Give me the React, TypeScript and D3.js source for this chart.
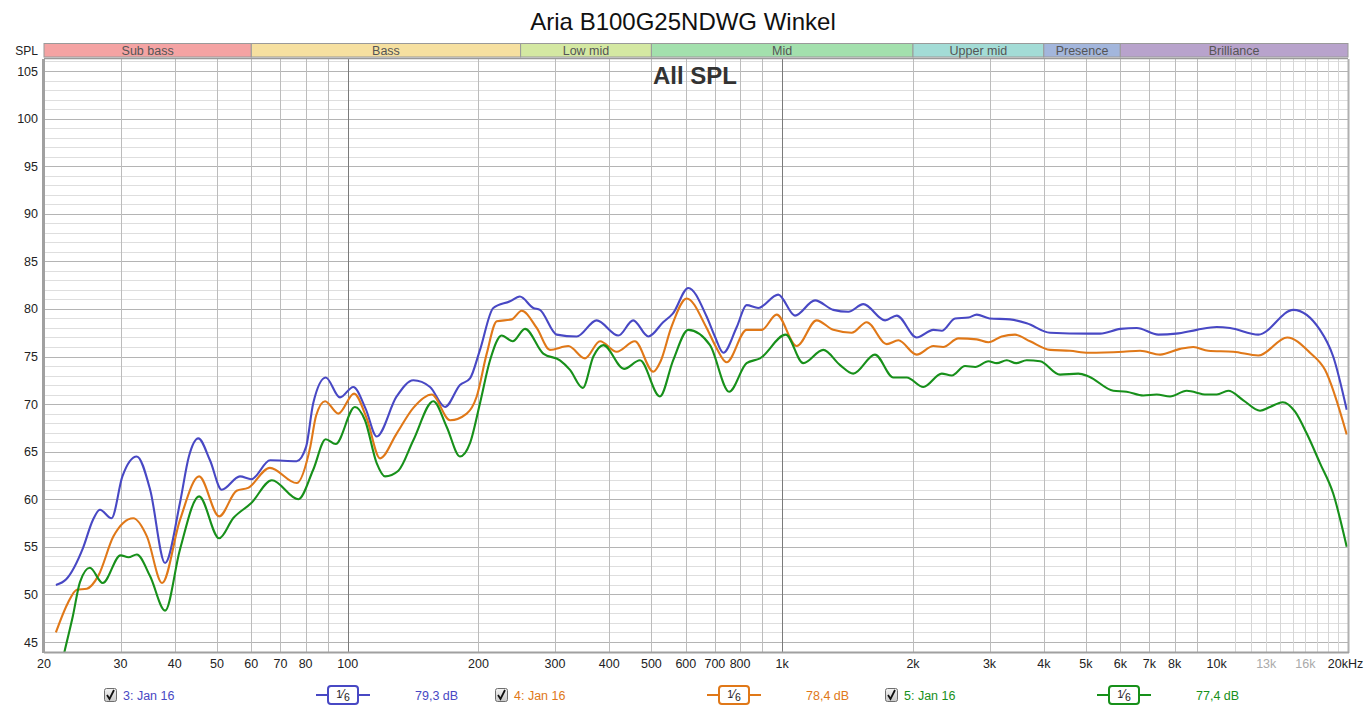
import React from "react";
import * as d3 from "d3";

const W = 1369;
const H = 710;

const chartTitle = "Aria B100G25NDWG Winkel";
const chartSubtitle = "All SPL";

const bandNames = ["Sub bass", "Bass", "Low mid", "Mid", "Upper mid", "Presence", "Brilliance"];
const bandEdges = [20, 60, 250, 500, 2000, 4000, 6000, 20000];
const bandColors = ["#f4a3a3", "#f6e0a0", "#d4e8a2", "#a3e0ad", "#a3dcd6", "#a3b6dc", "#b8a3cc"];

const yTicks = [45, 50, 55, 60, 65, 70, 75, 80, 85, 90, 95, 100, 105];
const xTickValues = [20, 30, 40, 50, 60, 70, 80, 100, 200, 300, 400, 500, 600, 700, 800, 1000, 2000, 3000, 4000, 5000, 6000, 7000, 8000, 10000, 13000, 16000, 20000];
const xTickLabels = ["20", "30", "40", "50", "60", "70", "80", "100", "200", "300", "400", "500", "600", "700", "800", "1k", "2k", "3k", "4k", "5k", "6k", "7k", "8k", "10k", "13k", "16k", "20kHz"];
const xTickMinor = [13000, 16000];

const seriesNames = ["3: Jan 16", "4: Jan 16", "5: Jan 16"];
const seriesLevels = ["79,3 dB", "78,4 dB", "77,4 dB"];
const seriesColors = ["#4848c4", "#e07818", "#17901a"];

const blueData: [number, number][] = [
  [21.3, 51.0], [22.5, 51.6], [24.6, 54.9], [25.9, 57.8], [26.9, 58.9], [28.6, 58.0], [30.3, 62.4],
  [32.7, 64.5], [35.1, 61.0], [38.0, 53.3], [41.1, 59.6], [43.1, 64.5], [45.3, 66.4], [48.2, 64.1],
  [51.3, 61.0], [56.5, 62.4], [60, 62.1], [66.3, 64.1], [76.3, 64.0], [80.2, 65.5], [83.3, 70.1],
  [89, 72.8], [96, 70.7], [103, 71.8], [110, 69.5], [116.6, 66.6], [129.6, 70.8], [141.6, 72.5],
  [154.7, 71.8], [167.5, 69.7], [181.3, 72.0], [191.2, 72.7], [201.6, 75.7], [216.3, 80.1],
  [236.3, 80.8], [249, 81.3], [267.4, 80.1], [277, 79.9], [302.7, 77.3], [336.5, 77.1], [374, 78.8],
  [419.6, 77.2], [454, 78.8], [492, 77.1], [532, 78.6], [560, 79.5], [608, 82.2], [670, 79.2],
  [700, 77.1], [732, 75.4], [786, 78.1], [828, 80.4], [881, 80.1], [979, 81.5], [1070, 79.3],
  [1190, 80.9], [1311, 79.9], [1420, 79.7], [1537, 80.5], [1725, 78.8], [1835, 79.3], [2039, 77.0],
  [2228, 77.8], [2329, 77.7], [2500, 79.0], [2682, 79.1], [2804, 79.4], [3000, 79.0], [3344, 78.9],
  [3653, 78.5], [4135, 77.5], [5075, 77.4], [5388, 77.4], [6000, 77.9], [6545, 78.0], [7340, 77.3],
  [8060, 77.4], [9000, 77.8], [10000, 78.1], [10732, 78.0], [12467, 77.3], [15007, 79.9],
  [17284, 77.8], [18540, 75.0], [19917, 69.4],
];

const orangeData: [number, number][] = [
  [21.3, 46.0], [22.7, 49.1], [23.8, 50.5], [25.1, 50.6], [26.7, 52.0], [28.9, 56.1], [32.1, 58.0],
  [34.5, 56.1], [37.4, 51.2], [41.1, 57.8], [45.5, 62.4], [50.6, 58.2], [55.5, 60.9], [59, 61.2],
  [66.2, 63.3], [76.3, 61.7], [82, 65.5], [84.6, 68.8], [88.7, 70.3], [95.2, 69.0], [103.4, 71.1],
  [110.6, 68.5], [118.7, 64.3], [129.6, 66.9], [141.6, 69.6], [156.1, 71.0], [172, 68.3],
  [187.9, 69.0], [198.1, 70.8], [208.9, 75.3], [220.3, 78.7], [238.5, 78.9], [251.4, 79.8],
  [272.3, 78.0], [292.1, 75.7], [321.9, 76.1], [351.7, 74.8], [380.8, 76.6], [416, 75.5], [458, 76.6],
  [505, 73.4], [525, 74.5], [555, 78.0], [603, 81.1], [670, 78.0], [704, 76.0], [745, 74.4],
  [828, 77.8], [897, 77.8], [971, 79.4], [1080, 76.1], [1200, 78.8], [1311, 77.8], [1445, 77.5],
  [1565, 78.6], [1740, 76.3], [1851, 76.7], [2039, 75.2], [2228, 76.1], [2346, 76.0], [2544, 76.9],
  [2804, 76.8], [2982, 76.5], [3200, 77.1], [3434, 77.3], [3719, 76.6], [4135, 75.7], [4596, 75.6],
  [5064, 75.4], [6096, 75.5], [6661, 75.6], [7407, 75.2], [8235, 75.8], [8833, 76.0], [9561, 75.6],
  [10919, 75.5], [12467, 75.1], [14533, 77.0], [16394, 75.4], [17752, 73.6], [19917, 66.8],
];

const greenData: [number, number][] = [
  [21.3, 40.0], [22.3, 44.0], [23.3, 47.7], [24.2, 51.3], [25.5, 52.8], [27.3, 51.2], [30, 54.1],
  [31.3, 53.9], [32.7, 54.2], [35.1, 51.9], [38, 48.3], [41.1, 54.7], [45.5, 60.3], [50.6, 55.9],
  [54.5, 58.0], [60, 59.6], [66.9, 62.0], [77, 60.0], [83.3, 63.1], [89, 66.3], [93.8, 65.8],
  [103.9, 69.7], [109.6, 68.3], [116.6, 63.8], [121.9, 62.4], [130.8, 63.0], [141.6, 66.2],
  [157.4, 70.3], [169, 67.6], [181.3, 64.5], [191.2, 65.9], [201.6, 70.1], [212.6, 74.6],
  [226.1, 77.2], [239.7, 76.6], [255.9, 77.9], [281.9, 75.3], [308, 74.6], [324.8, 73.6],
  [347.5, 71.7], [367.6, 75.0], [387.6, 76.2], [432.5, 73.7], [470.6, 74.6], [523, 70.8], [561, 74.6],
  [608, 77.8], [682, 76.2], [755, 71.3], [828, 74.3], [889, 74.8], [1019, 77.3], [1118, 74.3],
  [1243, 75.7], [1359, 74.1], [1457, 73.2], [1635, 75.2], [1802, 72.8], [1934, 72.8], [2113, 71.8],
  [2329, 73.2], [2456, 73.0], [2635, 74.0], [2782, 73.9], [2982, 74.5], [3117, 74.3], [3288, 74.6],
  [3453, 74.3], [3653, 74.6], [3922, 74.5], [4359, 73.1], [4803, 73.2], [5075, 72.9], [5781, 71.4],
  [6205, 71.3], [6777, 70.9], [7276, 71.0], [7808, 70.8], [8530, 71.4], [9482, 71.0], [10000, 71.0],
  [10634, 71.4], [11516, 70.4], [12583, 69.3], [13266, 69.7], [14187, 70.2], [15148, 69.2],
  [16115, 66.9], [17284, 63.8], [18540, 60.6], [19917, 55.0],
];

const seriesData = [blueData, orangeData, greenData];

const PL = 44, PR = 1348, PT = 59, PB = 652;

export default function App() {
  const x = d3.scaleLog().domain([20, 20000]).range([44, 1347.5]);
  const y = d3.scaleLinear().domain([45, 105]).range([642, 71]);

  const line = d3
    .line<[number, number]>()
    .x((d) => x(d[0]))
    .y((d) => y(d[1]))
    .curve(d3.curveMonotoneX);

  const gridFreqs: { f: number; kind: string }[] = [];
  [10, 100, 1000].forEach((dec) => {
    for (let m = 1; m <= 9; m++) {
      const f = dec * m;
      if (f <= 20 || f > 10000) continue;
      gridFreqs.push({ f, kind: m === 1 ? "decade" : "minor" });
    }
  });
  for (let m = 11; m <= 19; m++) gridFreqs.push({ f: m * 1000, kind: "light" });

  const hLines: number[] = [];
  for (let v = 44; v <= 106; v++) hLines.push(v);

  const font = "'Liberation Sans', Arial, sans-serif";

  return (
    <div style={{ position: "absolute", left: 0, top: 0 }}>
      <svg width={W} height={H} style={{ display: "block", background: "#fff" }} fontFamily={font}>
        <defs>
          <clipPath id="plotClip">
            <rect x={PL} y={PT} width={PR - PL} height={PB - PT} />
          </clipPath>
          <linearGradient id="cbGrad" x1="0" y1="0" x2="0" y2="1">
            <stop offset="0" stopColor="#f4f4f4" />
            <stop offset="1" stopColor="#c8c8c8" />
          </linearGradient>
        </defs>

        <text x={683} y={30} textAnchor="middle" fontSize={24} fill="#111">
          {chartTitle}
        </text>

        {bandNames.map((name, i) => {
          const x0 = x(bandEdges[i]);
          const x1 = i === bandNames.length - 1 ? PR : x(bandEdges[i + 1]);
          return (
            <g key={name}>
              <rect x={x0} y={43.5} width={x1 - x0} height={13.5} fill={bandColors[i]} stroke="#9a9a9a" strokeWidth={1} />
              <text x={(x0 + x1) / 2} y={55} textAnchor="middle" fontSize={12.5} fill="#555">
                {name}
              </text>
            </g>
          );
        })}
        <text x={38} y={54.5} textAnchor="end" fontSize={12} fill="#222">
          SPL
        </text>

        <rect x={PL} y={PT} width={PR - PL} height={PB - PT} fill="#fff" />

        <g clipPath="url(#plotClip)">
          {hLines.map((v) => (
            <line
              key={"h" + v}
              x1={PL}
              x2={PR}
              y1={Math.round(y(v)) + 0.5}
              y2={Math.round(y(v)) + 0.5}
              stroke={v % 5 === 0 ? "#b4b4b4" : "#dedede"}
              strokeWidth={1}
            />
          ))}
          {gridFreqs.map((g) => (
            <line
              key={"v" + g.f}
              x1={Math.round(x(g.f)) + 0.5}
              x2={Math.round(x(g.f)) + 0.5}
              y1={PT}
              y2={PB}
              stroke={g.kind === "decade" ? "#7a7a7a" : g.kind === "light" ? "#d6d6d6" : "#bcbcbc"}
              strokeWidth={1}
            />
          ))}
        </g>

        <text x={695} y={84} textAnchor="middle" fontSize={24} fontWeight="bold" fill="#333">
          {chartSubtitle}
        </text>

        <g clipPath="url(#plotClip)">
          {seriesData.map((data, i) => (
            <path key={"s" + i} d={line(data) || ""} fill="none" stroke={seriesColors[i]} strokeWidth={2.1} strokeLinejoin="round" />
          ))}
        </g>

        <line x1={PL} x2={PR} y1={PT - 0.5} y2={PT - 0.5} stroke="#9a9a9a" strokeWidth={1.5} />
        <line x1={PL - 0.5} x2={PL - 0.5} y1={PT} y2={PB + 1} stroke="#a0a0a0" strokeWidth={3} />
        <line x1={PR + 0.5} x2={PR + 0.5} y1={PT} y2={PB + 1} stroke="#b0b0b0" strokeWidth={2} />
        <line x1={PL} x2={PR + 1} y1={PB + 0.5} y2={PB + 0.5} stroke="#a0a0a0" strokeWidth={2} />

        {yTicks.map((v) => (
          <text key={"yt" + v} x={38} y={y(v) + 4.5} textAnchor="end" fontSize={12.5} fill="#222">
            {v}
          </text>
        ))}

        {xTickValues.map((f, i) => (
          <text
            key={"xt" + f}
            x={i === xTickValues.length - 1 ? x(f) - 2 : x(f)}
            y={668}
            textAnchor="middle"
            fontSize={12.5}
            fill={xTickMinor.includes(f) ? "#aaaaaa" : "#222"}
          >
            {xTickLabels[i]}
          </text>
        ))}

        {seriesNames.map((name, i) => {
          const gx = [104, 495, 885][i];
          const c = seriesColors[i];
          return (
            <g key={"lg" + i}>
              <rect x={gx + 0.5} y={688.5} width={12} height={13} rx={2} fill="url(#cbGrad)" stroke="#6e6e6e" strokeWidth={1} />
              <path d={`M${gx + 3},${695} L${gx + 5.5},${699} L${gx + 10},${690}`} fill="none" stroke="#111" strokeWidth={1.8} />
              <text x={gx + 19} y={700} fontSize={12.5} fill={c}>
                {name}
              </text>
              <line x1={gx + 212} x2={gx + 266} y1={695} y2={695} stroke={c} strokeWidth={2} />
              <rect x={gx + 224} y={686} width={30} height={18} rx={3} fill="#fff" stroke={c} strokeWidth={2} />
              <text x={gx + 239} y={699} textAnchor="middle" fontSize={12} fill="#222">
                <tspan dy={-1.5} fontSize={10.5}>1</tspan>
                <tspan dy={0}>⁄</tspan>
                <tspan dy={3} fontSize={10.5}>6</tspan>
              </text>
              <text x={gx + 311} y={700} fontSize={12.5} fill={c}>
                {seriesLevels[i]}
              </text>
            </g>
          );
        })}
      </svg>
    </div>
  );
}
